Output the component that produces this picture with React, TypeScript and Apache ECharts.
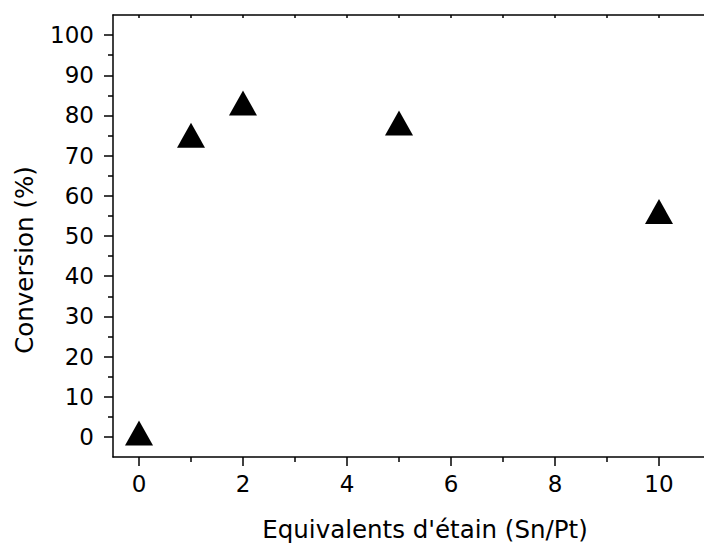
import React, { useEffect, useRef } from "react";
import * as echarts from "echarts";

const xValues = [0, 1, 2, 5, 10];
const yValues = [0, 74.1, 82.1, 77.1, 55.1];
const xMajorTicks = [0, 2, 4, 6, 8, 10];
const xMinorTicks = [1, 3, 5, 7, 9, 11];
const xTopTicks = [0, 1, 2, 3, 4, 5, 6, 7, 8, 9, 10, 11];
const yMajorTicks = [0, 10, 20, 30, 40, 50, 60, 70, 80, 90, 100];
const yMinorTicks = [5, 15, 25, 35, 45, 55, 65, 75, 85, 95];
const xTitle = "Equivalents d'étain (Sn/Pt)";
const yTitle = "Conversion (%)";

const FONT = "DejaVu Sans";
const FS = 23;
const TFS = 24.5;

export default function App() {
  const ref = useRef<HTMLDivElement>(null);
  useEffect(() => {
    if (!ref.current) return;
    const chart = echarts.init(ref.current, null, { renderer: "svg" });
    const line = { show: true, onZero: false, lineStyle: { color: "#000", width: 1.5 } };
    const xBase = { type: "value", min: -0.5, max: 11.5, splitLine: { show: false } };
    const yBase = { type: "value", min: -5, max: 105, splitLine: { show: false } };
    chart.setOption({
      animation: false,
      backgroundColor: "#fff",
      grid: { left: 113, top: 15, width: 624, height: 442, containLabel: false, outerBoundsMode: "none" },
      xAxis: [
        {
          ...xBase,
          position: "bottom",
          axisLine: line,
          axisTick: { show: true, inside: false, length: 9, customValues: xMajorTicks, lineStyle: { color: "#000", width: 1.5 } },
          axisLabel: { show: true, customValues: xMajorTicks, margin: 15, color: "#000", fontFamily: FONT, fontSize: FS },
          name: xTitle,
          nameLocation: "middle",
          nameGap: 60,
          nameTextStyle: { color: "#000", fontFamily: FONT, fontSize: TFS },
        },
        {
          ...xBase,
          position: "bottom",
          axisLine: { show: false, onZero: false },
          axisTick: { show: true, inside: false, length: 5, customValues: xMinorTicks, lineStyle: { color: "#000", width: 1.5 } },
          axisLabel: { show: false },
        },
        {
          ...xBase,
          position: "top",
          axisLine: line,
          axisTick: { show: true, inside: true, length: 3, customValues: xTopTicks, lineStyle: { color: "#000", width: 1.5 } },
          axisLabel: { show: false },
        },
      ],
      yAxis: [
        {
          ...yBase,
          position: "left",
          axisLine: line,
          axisTick: { show: true, inside: false, length: 9, customValues: yMajorTicks, lineStyle: { color: "#000", width: 1.5 } },
          axisLabel: { show: true, customValues: yMajorTicks, margin: 19, color: "#000", fontFamily: FONT, fontSize: FS },
        },
        {
          ...yBase,
          position: "left",
          axisLine: { show: false, onZero: false },
          axisTick: { show: true, inside: false, length: 5, customValues: yMinorTicks, lineStyle: { color: "#000", width: 1.5 } },
          axisLabel: { show: false },
        },
      ],
      graphic: [
        {
          type: "text",
          x: 24,
          y: 260,
          rotation: Math.PI / 2,
          style: {
            text: yTitle,
            fill: "#000",
            font: `${TFS}px "${FONT}"`,
            align: "center",
            verticalAlign: "middle",
          },
        },
      ],
      series: [
        {
          type: "scatter",
          xAxisIndex: 0,
          yAxisIndex: 0,
          data: xValues.map((x, i) => [x, yValues[i]]),
          symbol: "triangle",
          symbolSize: [28, 25],
          symbolOffset: [0, -4],
          itemStyle: { color: "#000", opacity: 1 },
        },
      ],
    });
    return () => chart.dispose();
  }, []);
  return (
    <div
      ref={ref}
      style={{ position: "fixed", left: 0, top: 0, width: 704, height: 544 }}
    />
  );
}
